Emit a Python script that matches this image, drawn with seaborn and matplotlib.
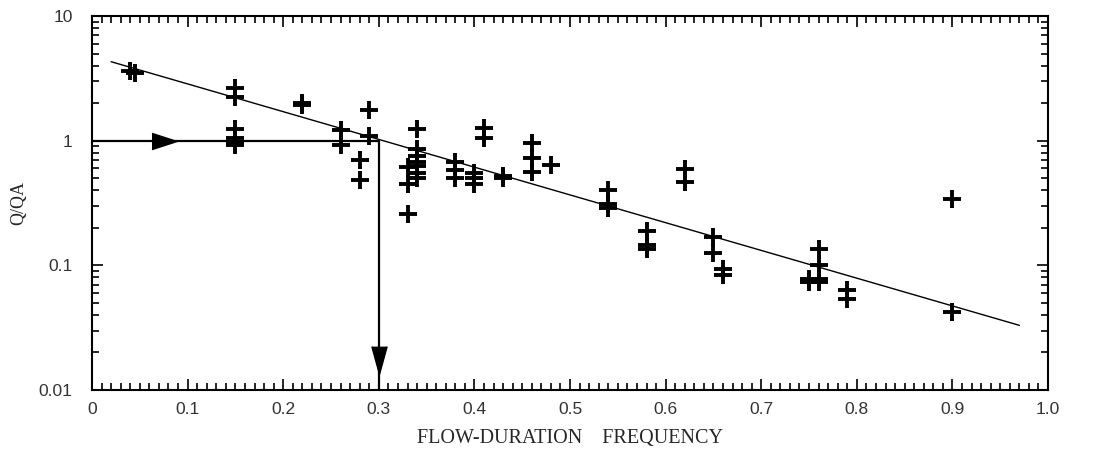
import numpy as np
import pandas as pd
import matplotlib
matplotlib.use("Agg")
import matplotlib.pyplot as plt
import seaborn as sns
from matplotlib.ticker import MultipleLocator, LogLocator, FixedLocator, NullFormatter

# Flow-duration frequency vs Q/QA
freq = [0.04, 0.045,
        0.15, 0.15, 0.15, 0.15, 0.15, 0.15,
        0.22, 0.22,
        0.26, 0.26,
        0.28, 0.28,
        0.29, 0.29,
        0.33, 0.33, 0.33,
        0.34, 0.34, 0.34, 0.34, 0.34, 0.34, 0.34,
        0.38, 0.38, 0.38,
        0.40, 0.40, 0.40,
        0.41, 0.41,
        0.43, 0.43,
        0.46, 0.46, 0.46,
        0.48,
        0.54, 0.54, 0.54,
        0.58, 0.58, 0.58,
        0.62, 0.62,
        0.65, 0.65,
        0.66, 0.66,
        0.75, 0.75,
        0.76, 0.76, 0.76, 0.76,
        0.79, 0.79,
        0.90, 0.90]
qqa = [3.65, 3.5,
       2.65, 2.25, 1.25, 1.05, 0.98, 0.93,
       2.0, 1.95,
       1.22, 0.92,
       0.70, 0.48,
       1.75, 1.10,
       0.62, 0.45, 0.26,
       1.25, 0.85, 0.75, 0.68, 0.63, 0.55, 0.50,
       0.67, 0.58, 0.50,
       0.55, 0.50, 0.45,
       1.27, 1.05,
       0.52, 0.50,
       0.95, 0.73, 0.56,
       0.64,
       0.40, 0.31, 0.29,
       0.19, 0.145, 0.135,
       0.59, 0.47,
       0.17, 0.125,
       0.093, 0.083,
       0.078, 0.073,
       0.135, 0.10, 0.078, 0.073,
       0.063, 0.054,
       0.34, 0.042]

# fitted line end points
fit_x = [0.02, 0.97]
fit_y = [4.3, 0.033]

# reading path: Q/QA = 1 -> frequency 0.3
path_x = [0.0, 0.3, 0.3]
path_y = [1.0, 1.0, 0.01]
arrow_right = (0.075, 1.0)
arrow_down = (0.3, 0.0175)

x_ticks = [0, 0.1, 0.2, 0.3, 0.4, 0.5, 0.6, 0.7, 0.8, 0.9, 1.0]
x_labels = ["0", "0.1", "0.2", "0.3", "0.4", "0.5", "0.6", "0.7", "0.8", "0.9", "1.0"]
y_ticks = [0.01, 0.1, 1, 10]
y_labels = ["0.01", "0.1", "1", "10"]

df = pd.DataFrame({"freq": freq, "qqa": qqa})
fit = pd.DataFrame({"x": fit_x, "y": fit_y})

sns.set_style("ticks")
plt.rcParams["font.family"] = ["Liberation Sans", "DejaVu Sans"]

fig = plt.figure(figsize=(10.94, 4.54), dpi=100)
ax = fig.add_axes([0.0841, 0.141, 0.8739, 0.8237])

sns.lineplot(data=fit, x="x", y="y", color="black", linewidth=1.0, ax=ax)
ax.plot(path_x, path_y, color="black", linewidth=1.6)
ax.plot(*arrow_right, marker=[(-1, -0.65), (1, 0), (-1, 0.65)], markersize=18,
        color="black", linestyle="none")
ax.plot(*arrow_down, marker=[(-0.55, 1), (0, -1), (0.55, 1)], markersize=20,
        color="black", linestyle="none")
sns.scatterplot(data=df, x="freq", y="qqa", marker="+", s=160, linewidth=2.8,
                color="black", ax=ax, zorder=5)

ax.set_yscale("log")
ax.set_xlim(0, 1.0)
ax.set_ylim(0.01, 10)

ax.xaxis.set_major_locator(FixedLocator(x_ticks))
ax.set_xticklabels(x_labels)
ax.xaxis.set_minor_locator(MultipleLocator(0.01))
ax.yaxis.set_major_locator(FixedLocator(y_ticks))
ax.set_yticklabels(y_labels)
ax.yaxis.set_minor_locator(LogLocator(base=10, subs=np.arange(2, 10)))
ax.yaxis.set_minor_formatter(NullFormatter())

ax.tick_params(which="both", direction="in", top=True, right=True, colors="black",
               labelcolor="#333333", labelsize=12.5, width=1.2)
ax.tick_params(which="major", length=8)
ax.tick_params(which="minor", length=5)
ax.tick_params(axis="x", which="major", pad=9)
ax.tick_params(axis="y", which="major", pad=14)
for s in ax.spines.values():
    s.set_linewidth(1.5)
    s.set_color("black")

ax.set_xlabel("FLOW-DURATION    FREQUENCY", family="Liberation Serif", fontsize=14.5, labelpad=8)
ax.set_ylabel("Q/QA", family="Liberation Serif", fontsize=13, labelpad=8)

fig.savefig("out.png", dpi=100)
